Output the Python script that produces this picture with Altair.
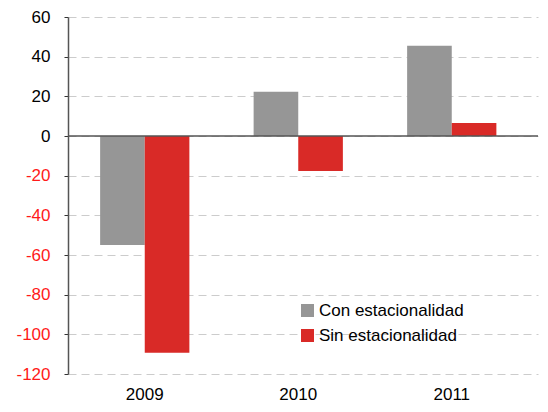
import altair as alt
import pandas as pd

years = ["2009", "2010", "2011"]
con = [-55.0, 22.3, 45.5]
sin = [-109.3, -17.7, 6.6]
series = ["Con estacionalidad", "Sin estacionalidad"]
colors = ["#969696", "#D92A27"]
yticks = [-120, -100, -80, -60, -40, -20, 0, 20, 40, 60]

rows = []
for i, yr in enumerate(years):
    rows.append({"year": yr, "serie": series[0], "value": con[i]})
    rows.append({"year": yr, "serie": series[1], "value": sin[i]})
df = pd.DataFrame(rows)

FONT = "Liberation Sans"
W = 470
STEP = 153.5
p_outer = (W / STEP - 3) / 2


def y_axis():
    return alt.Axis(title=None, values=yticks, labelFontSize=17, labelFont=FONT,
                    labelOverlap=False, labelExpr="datum.value + ''",
                    labelColor={"expr": "datum.value < 0 ? '#ff1a1a' : '#000000'"},
                    labelPadding=14, tickSize=4, tickColor="#333333",
                    domainColor="#555555", domainWidth=1.5,
                    grid=True, gridDash=[8, 5], gridColor="#cccccc", gridWidth=1)


y_scale = alt.Scale(domain=[-120, 60], nice=False, zero=False)

bars = alt.Chart(df).mark_bar().encode(
    x=alt.X("year:N", sort=years,
            scale=alt.Scale(paddingInner=0, paddingOuter=p_outer, align=0),
            axis=alt.Axis(title=None, labelAngle=0, domain=False, ticks=False,
                          labelFontSize=17, labelPadding=12, labelColor="#000000",
                          labelFont=FONT, grid=False)),
    xOffset=alt.XOffset("serie:N", sort=series,
                        scale=alt.Scale(paddingInner=0, paddingOuter=0.72)),
    y=alt.Y("value:Q", scale=y_scale, axis=y_axis()),
    color=alt.Color("serie:N", sort=series,
                    scale=alt.Scale(domain=series, range=colors),
                    legend=alt.Legend(title=None, orient="none", legendX=231, legendY=285,
                                      symbolType="square", symbolSize=169,
                                      symbolStrokeWidth=0, symbolOpacity=1,
                                      labelFontSize=17, labelFont=FONT, labelColor="#000000",
                                      rowPadding=7, labelOffset=3)),
)

zero = alt.Chart(pd.DataFrame({"value": [0]})).mark_rule(color="#555555", strokeWidth=1.5).encode(
    y=alt.Y("value:Q", scale=y_scale, axis=y_axis())
)

chart = alt.layer(bars, zero).properties(
    width=W, height=357,
    padding={"left": 7, "top": 0, "right": 0, "bottom": 0},
).configure_view(stroke=None)

chart.save("out.html", embed_options={"renderer": "svg", "actions": False})
